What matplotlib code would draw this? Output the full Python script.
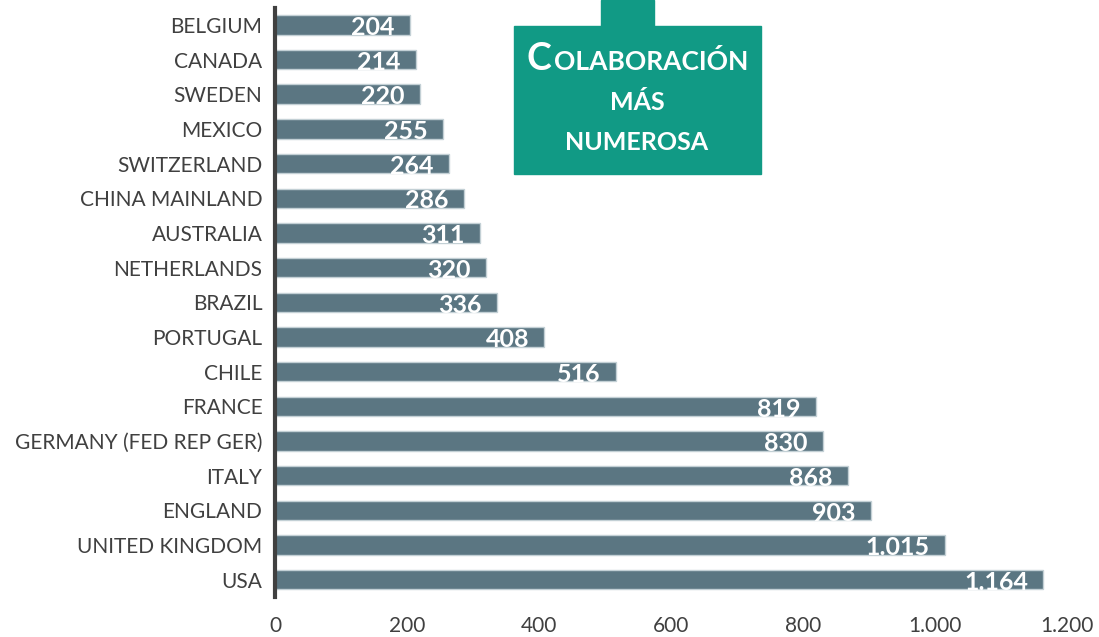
import matplotlib.pyplot as plt
from matplotlib.patches import Rectangle
from matplotlib.ticker import FuncFormatter

plt.rcParams['font.family'] = ['Lato', 'DejaVu Sans']

countries = ["BELGIUM", "CANADA", "SWEDEN", "MEXICO", "SWITZERLAND", "CHINA MAINLAND",
             "AUSTRALIA", "NETHERLANDS", "BRAZIL", "PORTUGAL", "CHILE", "FRANCE",
             "GERMANY (FED REP GER)", "ITALY", "ENGLAND", "UNITED KINGDOM", "USA"]
counts = [204, 214, 220, 255, 264, 286, 311, 320, 336, 408, 516, 819, 830, 868, 903, 1015, 1164]
xticks = [0, 200, 400, 600, 800, 1000, 1200]

W, H = 1099, 637
fig = plt.figure(figsize=(W / 100, H / 100), dpi=100)
ax = fig.add_axes([275 / W, 40 / H, (1067 - 275) / W, 589.5 / H])


def thousands(v):
    return f"{int(v):,}".replace(",", ".")


bar_col = "#5b7682"
ypos = list(range(len(countries)))
bars = ax.barh(ypos, counts, height=0.56, color=bar_col, edgecolor="#c3d0d5", linewidth=1)
ax.set_ylim(len(countries) - 0.5, -0.5)
ax.set_xlim(0, 1200)
ax.set_yticks(ypos)
ax.set_yticklabels(countries, fontsize=15, color="#404040")
ax.set_xticks(xticks)
ax.xaxis.set_major_formatter(FuncFormatter(lambda v, p: thousands(v)))
ax.tick_params(axis="x", length=0, labelsize=15, labelcolor="#404040", pad=14)
ax.tick_params(axis="y", length=0, pad=9)

for s in ["top", "right", "bottom"]:
    ax.spines[s].set_visible(False)
ax.spines["left"].set_linewidth(3)
ax.spines["left"].set_color("#404040")

for y, v in zip(ypos, counts):
    ax.annotate(thousands(v), (v, y), xytext=(-11, -2), textcoords="offset points",
                ha="right", va="center", color="white", fontsize=18, fontweight="bold")

# callout box
teal = "#119a85"


def fx(px):
    return px / W


def fy(py):
    return 1 - py / H


fig.patches.append(Rectangle((fx(514), fy(174)), fx(761) - fx(514), fy(26) - fy(174),
                             transform=fig.transFigure, color=teal, zorder=5))
fig.patches.append(Rectangle((fx(601), fy(27)), fx(654) - fx(601), fy(0) - fy(27),
                             transform=fig.transFigure, color=teal, zorder=5))
fig.text(fx(527), fy(70), "C", fontsize=27, fontweight="bold", color="white",
         ha="left", va="baseline", zorder=6)
fig.text(fx(748), fy(70), "OLABORACIÓN", fontsize=19, fontweight="bold", color="white",
         ha="right", va="baseline", zorder=6)
fig.text(fx(637), fy(110), "MÁS", fontsize=18, fontweight="bold", color="white",
         ha="center", va="baseline", zorder=6)
fig.text(fx(637), fy(150), "NUMEROSA", fontsize=18, fontweight="bold", color="white",
         ha="center", va="baseline", zorder=6)

fig.savefig("out.png", dpi=100)
